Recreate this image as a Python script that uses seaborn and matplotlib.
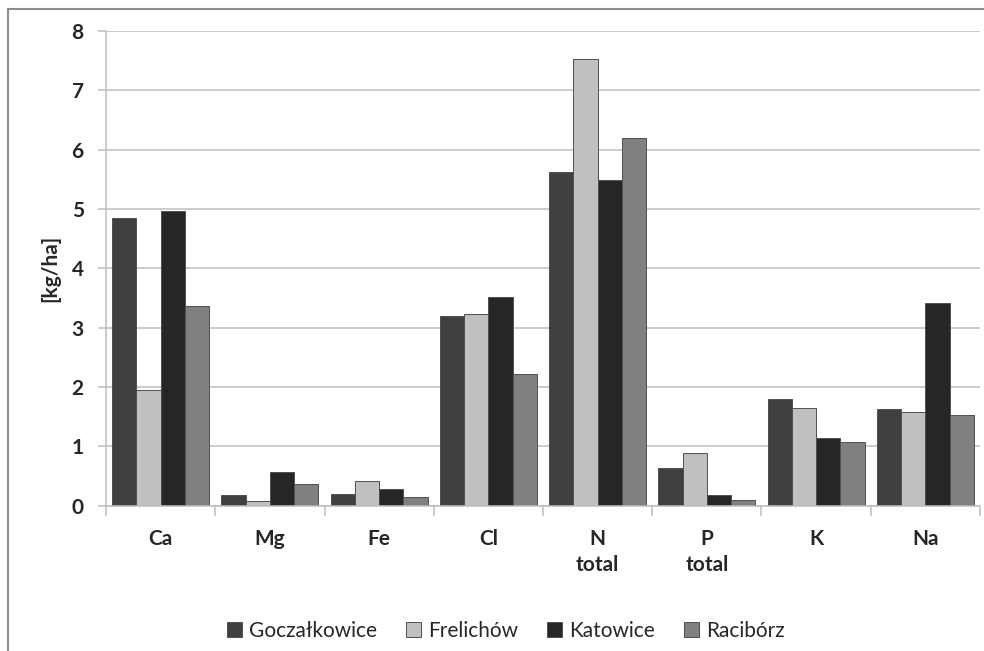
import matplotlib
matplotlib.use("Agg")
import matplotlib.pyplot as plt
import numpy as np
import pandas as pd
import seaborn as sns
from matplotlib.patches import Patch, Rectangle

# values [kg/ha]
elements = ["Ca", "Mg", "Fe", "Cl", "N\ntotal", "P\ntotal", "K", "Na"]
sites = ["Goczałkowice", "Frelichów", "Katowice", "Racibórz"]
goczalkowice = [4.84, 0.18, 0.19, 3.20, 5.62, 0.63, 1.80, 1.62]
frelichow = [1.95, 0.07, 0.41, 3.23, 7.53, 0.88, 1.65, 1.57]
katowice = [4.97, 0.57, 0.27, 3.51, 5.49, 0.18, 1.13, 3.42]
raciborz = [3.37, 0.37, 0.14, 2.21, 6.19, 0.10, 1.07, 1.52]
colors = ["#404040", "#c0c0c0", "#262626", "#808080"]

df = pd.DataFrame(
    {
        "element": elements * 4,
        "site": np.repeat(sites, len(elements)),
        "value": goczalkowice + frelichow + katowice + raciborz,
    }
)

sns.set_style("white")
plt.rcParams["font.family"] = ["Lato", "DejaVu Sans"]

fig = plt.figure(figsize=(9.84, 6.51), dpi=100)
ax = fig.add_axes([106 / 984, 1 - 505.5 / 651, 874 / 984, 474.5 / 651])

sns.barplot(
    data=df, x="element", y="value", hue="site", order=elements, hue_order=sites,
    palette=colors, saturation=1, width=0.89, edgecolor="#505050", linewidth=0.7,
    legend=False, ax=ax,
)

# axes styling
ax.set_ylim(0, 8)
ax.set_xlim(-0.5, len(elements) - 0.5)
ax.set_yticks(range(9))
ax.yaxis.grid(True, color="#bdbdbd", linewidth=1.1)
ax.set_axisbelow(True)
for side in ["top", "right"]:
    ax.spines[side].set_visible(False)
for side in ["left", "bottom"]:
    ax.spines[side].set_color("#bdbdbd")
    ax.spines[side].set_linewidth(1.1)

ax.tick_params(axis="y", length=6, color="#bdbdbd", width=1.1, pad=10,
               labelsize=15, left=True)
ax.set_yticklabels([str(i) for i in range(9)], fontweight="bold")
ax.set_xticks(range(len(elements)))
ax.set_xticklabels(elements, fontweight="bold", fontsize=15, linespacing=1.35)
ax.tick_params(axis="x", length=0, pad=17)
ax.set_xticks(np.arange(-0.5, len(elements)), minor=True)
ax.tick_params(axis="x", which="minor", length=7, color="#bdbdbd", width=1.1, bottom=True)

ax.set_xlabel("")
ax.set_ylabel("[kg/ha]", fontsize=15, fontweight="bold", labelpad=8)

handles = [Patch(facecolor=c, edgecolor="#505050", linewidth=0.7) for c in colors]
fig.legend(
    handles, sites, loc="center", bbox_to_anchor=(0.514, 0.031), ncol=4,
    frameon=False, fontsize=15, handlelength=0.7, handleheight=0.7,
    handletextpad=0.35, columnspacing=1.4,
)

# outer chart frame (cropped at right and bottom in the reference)
fig.patches.append(
    Rectangle((8 / 984, -0.1), 1.2, 1 - 9 / 651 + 0.1, transform=fig.transFigure,
              fill=False, edgecolor="#8c8c8c", linewidth=1.5)
)

fig.savefig("out.png", dpi=100)
